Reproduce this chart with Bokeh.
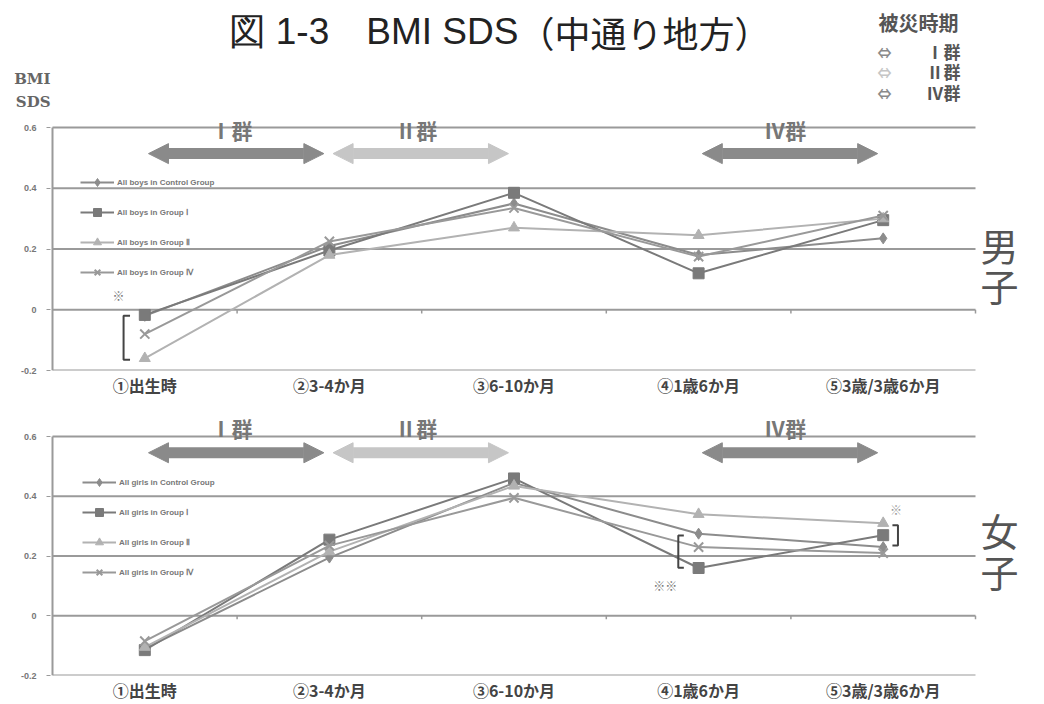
from bokeh.plotting import figure
from bokeh.layouts import column
from bokeh.models import Range1d, FixedTicker, Label, Arrow, NormalHead, Legend, LinearAxis
from bokeh.embed import file_html
from bokeh.resources import INLINE

# ---------------- data ----------------
categories = ["①出生時", "②3-4か月", "③6-10か月", "④1歳6か月", "⑤3歳/3歳6か月"]
y_ticks = [-0.2, 0.0, 0.2, 0.4, 0.6]
y_tick_labels = ["-0.2", "0", "0.2", "0.4", "0.6"]

boys_control = [-0.02, 0.21, 0.35, 0.18, 0.235]
boys_g1 = [-0.017, 0.195, 0.385, 0.12, 0.295]
boys_g2 = [-0.16, 0.18, 0.27, 0.245, 0.30]
boys_g4 = [-0.08, 0.225, 0.335, 0.175, 0.31]

girls_control = [-0.11, 0.195, 0.445, 0.275, 0.23]
girls_g1 = [-0.115, 0.255, 0.46, 0.16, 0.27]
girls_g2 = [-0.105, 0.215, 0.435, 0.34, 0.31]
girls_g4 = [-0.085, 0.235, 0.395, 0.23, 0.21]

boys_names = ["All boys in Control Group", "All boys in Group Ⅰ",
              "All boys in Group Ⅱ", "All boys in Group Ⅳ"]
girls_names = ["All girls in Control Group", "All girls in Group Ⅰ",
               "All girls in Group Ⅱ", "All girls in Group Ⅳ"]

period_labels = ["Ⅰ群", "Ⅱ群", "Ⅳ群"]
period_start = [1, 2, 4]
period_end = [2, 3, 5]
period_colors = ["#8a8a8a", "#c6c6c6", "#8a8a8a"]

series_colors = ["#8c8c8c", "#7a7a7a", "#b2b2b2", "#999999"]
series_markers = ["diamond", "square", "triangle", "x"]
series_sizes = [11, 11, 11, 13]

title_main = "図 1-3　BMI SDS"
title_region = "（中通り地方）"
key_title = "被災時期"
y_title = ["BMI", "SDS"]

JP = "Noto Sans CJK JP"
GRID = "#9a9a9a"
x = list(range(1, len(categories) + 1))
n = len(categories)

W = 1044
FRAME_LEFT = 50          # page px of frame's left edge
PX_PER_CAT = 184.6       # horizontal px per category
HEADER_H = 110


def make_panel(height, y_top, border_bottom, series, names, legend_loc,
               arrow_y, label_y, side_text, side_y):
    x0 = 0.5 - (52 - FRAME_LEFT) / PX_PER_CAT
    x1 = 0.5 + (W - 52) / PX_PER_CAT
    p = figure(width=W, height=height, output_backend="svg", toolbar_location=None,
               x_range=Range1d(x0, x1), y_range=Range1d(-0.2, y_top),
               min_border_left=FRAME_LEFT, min_border_right=0,
               min_border_top=0, min_border_bottom=border_bottom)
    p.outline_line_color = None
    p.xgrid.visible = False
    p.ygrid.visible = False

    # horizontal grid lines over the category span only
    p.segment(x0=[0.5] * len(y_ticks), y0=y_ticks, x1=[n + 0.5] * len(y_ticks), y1=y_ticks,
              line_color=GRID, line_width=2)
    # vertical value-axis line
    p.segment(x0=[0.5], y0=[y_ticks[0]], x1=[0.5], y1=[y_ticks[-1]], line_color=GRID, line_width=2)
    # small boundary ticks on the zero line
    bx = [i + 0.5 for i in x]
    p.segment(x0=bx, y0=[0] * len(bx), x1=bx, y1=[-0.012] * len(bx),
              line_color=GRID, line_width=1.5)

    p.yaxis.ticker = FixedTicker(ticks=y_ticks)
    p.yaxis.major_label_overrides = {t: l for t, l in zip(y_ticks, y_tick_labels)}
    p.yaxis.axis_line_color = None
    p.yaxis.major_tick_line_color = GRID
    p.yaxis.major_tick_out = 4
    p.yaxis.major_tick_in = 0
    p.yaxis.minor_tick_line_color = None
    p.yaxis.major_label_text_font_size = "9px"
    p.yaxis.major_label_text_color = "#777777"
    p.yaxis.major_label_text_font_style = "bold"
    p.yaxis.major_label_standoff = 10

    p.xaxis.ticker = FixedTicker(ticks=x)
    p.xaxis.major_label_overrides = {i: c for i, c in zip(x, categories)}
    p.xaxis.axis_line_color = None
    p.xaxis.major_tick_line_color = None
    p.xaxis.major_tick_out = 0
    p.xaxis.major_tick_in = 0
    p.xaxis.minor_tick_line_color = None
    p.xaxis.major_label_text_font = JP
    p.xaxis.major_label_text_font_style = "bold"
    p.xaxis.major_label_text_font_size = "16px"
    p.xaxis.major_label_text_color = "#444444"
    p.xaxis.major_label_standoff = 2

    items = []
    for vals, name, col, mk, sz in zip(series, names, series_colors, series_markers, series_sizes):
        r1 = p.line(x, vals, line_color=col, line_width=2)
        if mk == "x":
            r2 = p.scatter(x, vals, marker=mk, size=sz, line_color=col, line_width=2)
        else:
            r2 = p.scatter(x, vals, marker=mk, size=sz, fill_color=col, line_color=col)
        items.append((name, [r1, r2]))

    leg = Legend(items=items, location=legend_loc)
    leg.background_fill_alpha = 0
    leg.border_line_alpha = 0
    leg.label_text_font_size = "8px"
    leg.label_text_color = "#777777"
    leg.label_text_font_style = "bold"
    leg.glyph_width = 34
    leg.glyph_height = 20
    leg.label_height = 20
    leg.spacing = 10
    leg.padding = 0
    leg.margin = 0
    leg.label_standoff = 3
    p.add_layout(leg, "center")

    for lab, s, e, col in zip(period_labels, period_start, period_end, period_colors):
        p.add_layout(Arrow(x_start=s + 0.02, y_start=arrow_y, x_end=e - 0.03, y_end=arrow_y,
                           line_color=col, line_width=11,
                           start=NormalHead(size=20, fill_color=col, line_color=col),
                           end=NormalHead(size=20, fill_color=col, line_color=col)))
        p.add_layout(Label(x=(s + e) / 2 - 0.03, y=label_y, text=lab, text_align="center",
                           text_baseline="middle", text_font=JP, text_font_style="bold",
                           text_font_size="21px", text_color="#777777"))

    for ch, yy in zip(side_text, side_y):
        p.add_layout(Label(x=5.63, y=yy, text=ch, text_align="center", text_baseline="middle",
                           text_font=JP, text_font_size="38px", text_color="#555555"))
    return p


# ---------------- header (title, key, y-axis title) ----------------
# frame spans page x FRAME_LEFT..W, so data x == page x ; data y == HEADER_H - page y
hdr = figure(width=W, height=HEADER_H, output_backend="svg", toolbar_location=None,
             x_range=Range1d(FRAME_LEFT, W), y_range=Range1d(0, HEADER_H),
             x_axis_location=None, y_axis_location=None,
             min_border_left=FRAME_LEFT, min_border_right=0, min_border_top=0, min_border_bottom=0)
hdr.grid.visible = False
hdr.outline_line_color = None

# "BMI / SDS" value-axis title, drawn as the labels of a bare left axis
ytitle_pos = [HEADER_H - 78, HEADER_H - 101]
yt_axis = LinearAxis(ticker=FixedTicker(ticks=ytitle_pos),
                     major_label_overrides={v: t for v, t in zip(ytitle_pos, y_title)},
                     axis_line_color=None, major_tick_line_color=None, minor_tick_line_color=None,
                     major_tick_out=0, major_tick_in=0, major_label_standoff=0,
                     major_label_text_font="DejaVu Serif", major_label_text_font_style="bold",
                     major_label_text_font_size="15px", major_label_text_color="#666666")
hdr.add_layout(yt_axis, "left")


def hlabel(px, py, text, **kw):
    hdr.add_layout(Label(x=px, y=HEADER_H - py, text=text, text_baseline="middle", **kw))


hlabel(228, 31, title_main, text_align="left", text_font="Liberation Sans",
       text_font_size="37px", text_color="#222222")
hlabel(644, 31, title_region, text_align="center", text_font=JP,
       text_font_size="36px", text_color="#222222")
hlabel(918, 22, key_title, text_align="center", text_font=JP, text_font_style="bold",
       text_font_size="20px", text_color="#555555")
for i, (lab, col) in enumerate(zip(period_labels, period_colors)):
    py = [51, 71, 92][i]
    hlabel(884, py, "⇔", text_align="center", text_font=JP, text_font_style="bold",
           text_font_size="14px", text_color=col)
    hlabel(960, py, lab, text_align="right", text_font=JP, text_font_style="bold",
           text_font_size="17px", text_color="#555555")

# top panel: page y 110..404, frame 110..370 ; 0.6 at y=127 ; 303.75 px per unit
top_scale = 243 / 0.8
top = make_panel(404 - HEADER_H, 0.6 + (127 - HEADER_H) / top_scale, 34,
                 [boys_control, boys_g1, boys_g2, boys_g4], boys_names,
                 (30, 88), 0.514, 0.592, ["男", "子"], [0.215, 0.083])
# bottom panel: page y 404..704, frame 404..674 ; 0.6 at y=436 ; 297.5 px per unit
bot_scale = 238 / 0.8
bot = make_panel(300, 0.6 + (436 - 404) / bot_scale, 26,
                 [girls_control, girls_g1, girls_g2, girls_g4], girls_names,
                 (32, 93), 0.546, 0.628, ["女", "子"], [0.288, 0.15])

# bracket / asterisk annotations (boys, birth)
top.multi_line(xs=[[0.92, 0.885, 0.885, 0.92]], ys=[[-0.02, -0.02, -0.165, -0.165]],
               line_color="#444444", line_width=2)
top.add_layout(Label(x=0.857, y=0.046, text="※", text_align="center", text_baseline="middle",
                     text_font=JP, text_font_size="12px", text_color="#777777"))
# girls
bot.multi_line(xs=[[3.92, 3.89, 3.89, 3.92], [5.05, 5.08, 5.08, 5.05]],
               ys=[[0.269, 0.269, 0.161, 0.161], [0.303, 0.303, 0.235, 0.235]],
               line_color="#444444", line_width=2)
bot.add_layout(Label(x=3.82, y=0.10, text="※※", text_align="center", text_baseline="middle",
                     text_font=JP, text_font_size="12px", text_color="#777777"))
bot.add_layout(Label(x=5.07, y=0.356, text="※", text_align="center", text_baseline="middle",
                     text_font=JP, text_font_size="12px", text_color="#999999"))

layout = column(hdr, top, bot, spacing=0)
open("out.html", "w").write(file_html(layout, INLINE))
